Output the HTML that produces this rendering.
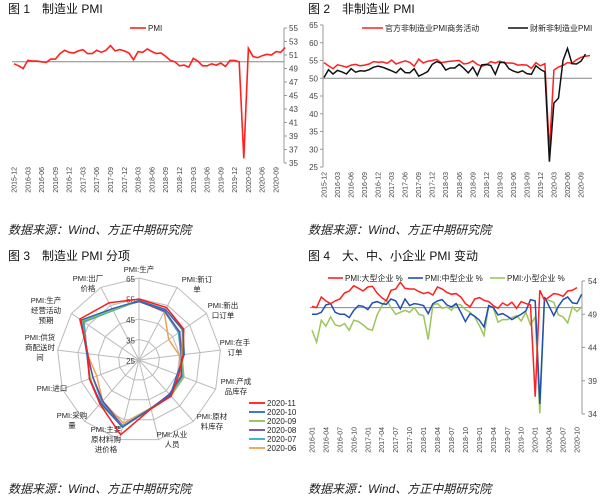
<!DOCTYPE html>
<html><head><meta charset="utf-8">
<style>
html,body{margin:0;padding:0;background:#fff;}
svg{display:block;font-family:"Liberation Sans","Noto Sans CJK SC",sans-serif;}
.t{font-size:12px;fill:#111;}
.c{font-size:12px;font-style:italic;fill:#222;}
.tk{font-size:8px;fill:#444;}
.xl{font-size:7px;fill:#444;}
.lg{font-size:8px;fill:#222;}
.rl{font-size:7.5px;fill:#222;}
</style></head>
<body>
<svg id="s" width="605" height="499" viewBox="0 0 605 499" xmlns="http://www.w3.org/2000/svg">
<text class="t" x="8" y="13">图 1　制造业 PMI</text>
<text class="t" x="308" y="13">图 2　非制造业 PMI</text>
<text class="t" x="8" y="260">图 3　制造业 PMI 分项</text>
<text class="t" x="308" y="260">图 4　大、中、小企业 PMI 变动</text>
<text class="c" x="8" y="234">数据来源：Wind、方正中期研究院</text>
<text class="c" x="308" y="234">数据来源：Wind、方正中期研究院</text>
<text class="c" x="8" y="493">数据来源：Wind、方正中期研究院</text>
<text class="c" x="308" y="493">数据来源：Wind、方正中期研究院</text>
</svg>
<script>
// ---------- data ----------
const mfgPMI=[49.7,49.4,49.0,50.2,50.1,50.1,50.0,49.9,50.4,50.4,51.2,51.7,51.4,51.3,51.6,51.8,51.2,51.2,51.7,51.4,51.7,52.4,51.6,51.8,51.6,51.3,50.3,51.5,51.4,51.9,51.5,51.2,51.3,50.8,50.2,50.0,49.4,49.5,49.2,50.5,50.1,49.4,49.4,49.7,49.5,49.8,49.3,50.2,50.2,50.0,35.7,52.0,50.8,50.6,50.9,51.1,51.0,51.5,51.4,52.1];
const nonMfgOfficial=[54.4,53.5,52.7,53.8,53.5,53.1,53.7,53.9,53.5,53.7,54.0,54.7,54.5,54.6,54.2,55.1,54.0,54.5,54.9,54.5,53.4,55.4,54.3,54.8,55.0,55.3,54.4,54.6,54.8,54.9,55.0,54.0,54.2,54.9,53.9,53.4,53.8,54.7,54.3,54.8,54.3,54.3,54.2,53.7,53.8,53.7,52.8,54.4,53.5,54.1,29.6,52.3,53.2,53.6,54.4,54.2,55.2,55.9,56.2,56.4];
const nonMfgCaixin=[50.2,52.4,51.2,52.2,51.8,51.2,52.7,51.7,52.1,52.0,52.4,53.1,53.4,53.1,52.6,52.1,51.5,52.8,51.6,51.5,52.7,50.6,51.2,51.9,53.9,54.7,54.2,52.3,52.9,52.9,53.9,52.8,51.5,53.1,50.8,53.8,53.9,53.6,51.1,54.4,54.5,52.7,52.0,51.6,52.1,51.3,51.1,53.5,52.5,51.8,26.5,43.0,44.4,55.0,58.4,54.1,54.0,54.8,56.8];
const months1=["2015-12","2016-03","2016-06","2016-09","2016-12","2017-03","2017-06","2017-09","2017-12","2018-03","2018-06","2018-09","2018-12","2019-03","2019-06","2019-09","2019-12","2020-03","2020-06","2020-09"];
const ticks1=[55,53,51,49,47,45,43,41,39,37,35];
const ticks2=[65,60,55,50,45,40,35,30,25];
const radarAxes=["生产","新订单","新出口订单","在手订单","产成品库存","原材料库存","从业人员","主要原材料购进价格","采购量","进口","供货商配送时间","生产经营活动预期","出厂价格"];
const radarSeriesNames=["2020-11","2020-10","2020-09","2020-08","2020-07","2020-06"];
const r2011=[54.7,53.9,51.5,46.7,45.7,48.6,49.5,62.6,53.7,50.9,50.1,60.1,56.5];
const r2010=[53.9,52.8,51.0,47.2,44.9,48.0,49.3,58.8,53.1,50.8,50.6,59.3,53.2];
const r2009=[54.0,52.8,50.8,46.1,48.4,48.5,49.6,58.5,53.6,50.4,50.7,58.7,52.5];
const r2008=[53.5,52.0,49.1,45.9,47.1,47.3,49.4,58.3,51.7,49.0,50.4,58.6,53.2];
const r2007=[54.0,51.7,48.4,45.6,47.6,47.9,49.3,58.1,52.4,49.1,50.4,57.8,52.2];
const r2006=[53.9,51.4,42.6,44.8,46.8,47.6,49.1,56.8,51.8,47.0,50.5,57.5,52.4];
const radarTicks=[25,35,45,55,65];
const largePMI=[50.2,50.0,51.6,51.0,50.6,51.0,51.3,52.2,52.5,53.3,52.9,52.5,53.1,53.2,52.2,51.5,51.0,52.6,52.8,53.8,52.9,52.8,52.8,52.4,52.1,52.3,51.9,53.1,52.8,52.3,52.0,52.1,51.6,50.6,50.1,51.3,51.5,51.1,50.9,50.3,49.9,50.7,50.3,50.8,49.9,50.9,50.6,50.4,36.6,52.6,51.1,51.6,52.1,52.0,51.7,52.5,52.6,53.0];
const mediumPMI=[49.0,49.0,49.3,50.4,50.6,49.3,49.0,49.0,48.5,49.6,50.3,50.2,49.7,50.7,50.9,50.6,50.5,51.3,51.0,49.8,51.3,50.3,50.6,50.5,50.3,49.1,50.6,51.0,51.2,50.4,50.1,50.6,49.3,47.9,49.1,48.7,48.1,47.1,50.3,50.0,48.9,49.1,48.7,48.2,48.6,49.0,49.5,51.2,51.0,35.5,51.6,50.2,48.8,50.2,51.2,51.6,50.7,50.6,52.0];
const smallPMI=[46.6,44.8,48.1,47.2,48.6,47.4,47.2,47.6,46.6,48.1,47.9,47.4,46.8,46.6,48.9,50.2,51.2,50.0,49.0,49.3,49.6,49.3,50.0,49.0,48.8,45.2,50.4,50.6,49.9,50.1,49.6,50.5,50.4,49.7,49.3,48.6,47.3,45.8,50.2,50.0,47.8,48.2,48.2,48.5,48.8,48.0,49.3,47.4,48.6,34.1,51.3,51.1,50.8,48.9,48.6,47.7,50.1,49.4,50.1];
const months4=["2016-01","2016-04","2016-07","2016-10","2017-01","2017-04","2017-07","2017-10","2018-01","2018-04","2018-07","2018-10","2019-01","2019-04","2019-07","2019-10","2020-01","2020-04","2020-07","2020-10"];
const ticks4=[54,49,44,39,34];

// ---------- helpers ----------
const S=document.getElementById('s');const NS='http://www.w3.org/2000/svg';
function mk(tag,attrs,parent){const e=document.createElementNS(NS,tag);for(const k in attrs)e.setAttribute(k,attrs[k]);(parent||S).appendChild(e);return e;}
function lin(d0,d1,r0,r1){return v=>r0+(v-d0)/(d1-d0)*(r1-r0);}
function pathOf(vals,x,y){return vals.map((v,i)=>(i?'L':'M')+x(i).toFixed(1)+','+y(v).toFixed(1)).join('');}

// ---------- chart 1 ----------
{
const g=mk('g',{});


const x=lin(0,57,14,276), y=lin(35,55,163,28);
const ax=mk('line',{x1:284,y1:y(55),x2:284,y2:y(35),stroke:'#999','stroke-width':1},g);

ticks1.forEach(t=>{mk('line',{x1:284,x2:287,y1:y(t),y2:y(t),stroke:'#999'},g);
 const tx=mk('text',{x:289,y:y(t)+3,class:'tk'},g);tx.textContent=t;
 });
const base=mk('line',{x1:12,x2:284,y1:y(50),y2:y(50),stroke:'#888'},g);

months1.forEach((m,i)=>{const xx=x(i*3);const tx=mk('text',{x:0,y:0,class:'xl','text-anchor':'end',transform:`translate(${xx+2.5},167) rotate(-90)`},g);tx.textContent=m;
 });
const ln=mk('path',{d:pathOf(mfgPMI,x,y),fill:'none',stroke:'#ff2020','stroke-width':1.6},g);

const ll=mk('line',{x1:130,x2:146,y1:28,y2:28,stroke:'#ff2020','stroke-width':1.6},g);

const lt=mk('text',{x:148,y:31,class:'lg'},g);lt.textContent='PMI';

}

// ---------- chart 2 ----------
{
const g=mk('g',{});


const x=lin(0,57,324,581), y=lin(25,65,167,25);
const ax=mk('line',{x1:323,y1:y(65),x2:323,y2:y(25),stroke:'#999'},g);

ticks2.forEach(t=>{mk('line',{x1:320,x2:323,y1:y(t),y2:y(t),stroke:'#999'},g);
 const tx=mk('text',{x:318,y:y(t)+3,class:'tk','text-anchor':'end'},g);tx.textContent=t;
 });
const base=mk('line',{x1:323,x2:592,y1:y(50),y2:y(50),stroke:'#888'},g);

months1.forEach((m,i)=>{const xx=x(i*3);const tx=mk('text',{x:0,y:0,class:'xl','text-anchor':'end',transform:`translate(${xx+2.5},172) rotate(-90)`},g);tx.textContent=m;
 });
const l1=mk('path',{d:pathOf(nonMfgOfficial,x,y),fill:'none',stroke:'#ff2020','stroke-width':1.5},g);

const l2=mk('path',{d:pathOf(nonMfgCaixin,x,y),fill:'none',stroke:'#111','stroke-width':1.5},g);

const s1=mk('line',{x1:362,x2:383,y1:28,y2:28,stroke:'#ff2020','stroke-width':1.6},g);

const t1=mk('text',{x:385,y:31,class:'lg'},g);t1.textContent='官方非制造业PMI商务活动';

const s2=mk('line',{x1:508,x2:528,y1:28,y2:28,stroke:'#111','stroke-width':1.6},g);

const t2=mk('text',{x:530,y:31,class:'lg'},g);t2.textContent='财新非制造业PMI';

}

// ---------- chart 3 radar ----------
{
const g=mk('g',{});


const cx=139,cy=360,R=82,n=radarAxes.length;
const r=lin(25,65,0,R);
const ang=i=>(-90+i*360/n)*Math.PI/180;
const pt=(i,v)=>[cx+r(v)*Math.cos(ang(i)),cy+r(v)*Math.sin(ang(i))];
radarTicks.slice(1).forEach(t=>{const p=mk('polygon',{points:radarAxes.map((_,i)=>pt(i,t).map(c=>c.toFixed(1)).join(',')).join(' '),fill:'none',stroke:'#bbb','stroke-width':1},g);
 });
radarAxes.forEach((_,i)=>{const [px,py]=pt(i,65);const l=mk('line',{x1:cx,y1:cy,x2:px,y2:py,stroke:'#bbb'},g);
 });
radarTicks.forEach(t=>{const tx=mk('text',{x:cx-4,y:cy-r(t)+4,class:'tk','text-anchor':'end'},g);tx.textContent=t;
 });
const labelLines=[["PMI:生产"],["PMI:新订","单"],["PMI:新出","口订单"],["PMI:在手","订单"],["PMI:产成","品库存"],["PMI:原材","料库存"],["PMI:从业","人员"],["PMI:主要","原材料购","进价格"],["PMI:采购","量"],["PMI:进口"],["PMI:供货","商配送时","间"],["PMI:生产","经营活动","预期"],["PMI:出厂","价格"]];
const labelPos=[[139,272],[197,282],[223,308],[235,345],[236,384],[212,419],[172,437],[106,432],[72,418],[52,391],[40,340],[46,303],[88,281]];
labelLines.forEach((ls,i)=>{const tx=mk('text',{x:labelPos[i][0],y:labelPos[i][1],class:'rl','text-anchor':'middle'},g);
 
 ls.forEach((s,j)=>{const ts=mk('tspan',{x:labelPos[i][0],dy:j?10:0},tx);ts.textContent=s;});});
const series=[r2006,r2007,r2008,r2009,r2010,r2011];
const names=["2020-06","2020-07","2020-08","2020-09","2020-10","2020-11"];
const cols=["#f0a050","#3aa8c8","#6a4fa0","#8cc050","#2a6ac0","#ff1a1a"];
series.forEach((vals,k)=>{const p=mk('polygon',{points:vals.map((v,i)=>pt(i,v).map(c=>c.toFixed(1)).join(',')).join(' '),fill:'none',stroke:cols[k],'stroke-width':1.5},g);
 });
radarSeriesNames.forEach((nm,k)=>{const yy=403+k*9;const c=cols[5-k];
 const l=mk('line',{x1:249,x2:265,y1:yy,y2:yy,stroke:c,'stroke-width':1.8},g);
 
 const tx=mk('text',{x:267,y:yy+3,class:'lg'},g);tx.textContent=nm;
 });
}

// ---------- chart 4 ----------
{
const g=mk('g',{});


const x=lin(0,57,312,577), y=lin(34,54,414,281);
const ax=mk('line',{x1:582,y1:y(54),x2:582,y2:y(34),stroke:'#999'},g);

ticks4.forEach(t=>{mk('line',{x1:582,x2:585,y1:y(t),y2:y(t),stroke:'#999'},g);
 const tx=mk('text',{x:588,y:y(t)+3,class:'tk'},g);tx.textContent=t;
 });
const base=mk('line',{x1:310,x2:582,y1:y(50),y2:y(50),stroke:'#888'},g);

months4.forEach((m,i)=>{const xx=x(i*3);const tx=mk('text',{x:0,y:0,class:'xl','text-anchor':'end',transform:`translate(${xx+2.5},427) rotate(-90)`},g);tx.textContent=m;
 });
const ls=[[smallPMI,'#9cc65a','small'],[mediumPMI,'#1f4fb0','medium'],[largePMI,'#ff2020','large']];
ls.forEach(([v,c,n])=>{const p=mk('path',{d:pathOf(v,x,y),fill:'none',stroke:c,'stroke-width':1.5},g);
 });
const leg=[['PMI:大型企业 %','#ff2020',328],['PMI:中型企业 %','#1f4fb0',408],['PMI:小型企业 %','#9cc65a',490]];
leg.forEach(([t,c,lx])=>{const l=mk('line',{x1:lx,x2:lx+15,y1:278,y2:278,stroke:c,'stroke-width':1.6},g);
 
 const tx=mk('text',{x:lx+17,y:281,class:'lg'},g);tx.textContent=t;
 });
}
</script>
</body></html>
